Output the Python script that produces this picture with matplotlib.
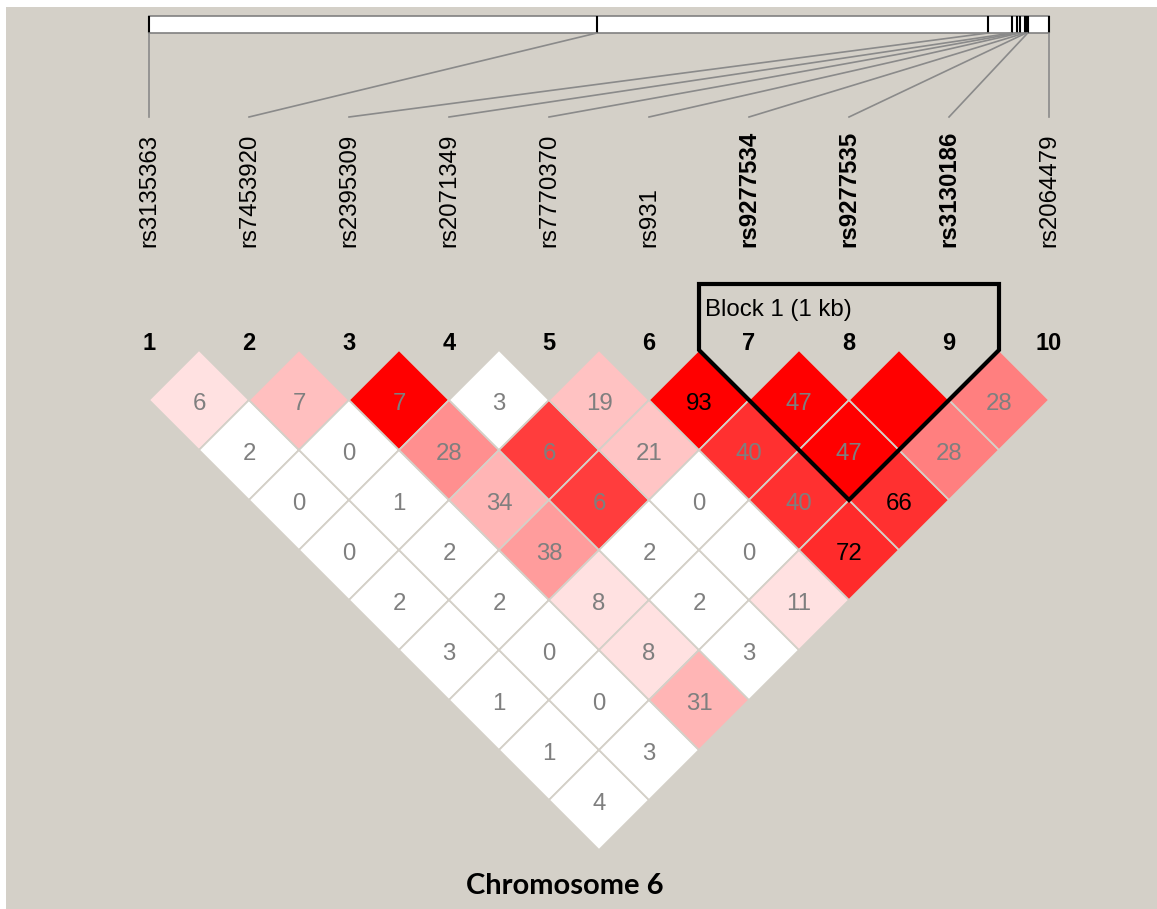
import matplotlib.pyplot as plt
from matplotlib.patches import Polygon, Rectangle
from matplotlib.colors import LinearSegmentedColormap

# markers, physical positions (kb from first marker) and haplotype block
snp_names = ["rs3135363", "rs7453920", "rs2395309", "rs2071349", "rs7770370",
             "rs931", "rs9277534", "rs9277535", "rs3130186", "rs2064479"]
snp_pos_kb = [0.0, 149.3, 279.7, 287.6, 289.3, 290.3, 291.9, 292.4, 292.9, 300.0]
block_first, block_last = 7, 9
block_label = "Block 1 (1 kb)"

# pairwise LD, row i holds pairs (i, i+1), (i, i+2), ... ; None = no number shown
ld_values = [
    [6, 2, 0, 0, 2, 3, 1, 1, 4],
    [7, 0, 1, 2, 2, 0, 0, 3],
    [7, 28, 34, 38, 8, 8, 31],
    [3, 6, 6, 2, 2, 3],
    [19, 21, 0, 0, 11],
    [93, 40, 40, 72],
    [47, 47, 66],
    [None, 28],
    [28],
]
# colour strength of each cell (0 = white, 1 = full red)
ld_shade = [
    [0.12, 0, 0, 0, 0, 0, 0, 0, 0],
    [0.25, 0, 0, 0, 0, 0, 0, 0],
    [1.0, 0.44, 0.29, 0.39, 0.12, 0.12, 0.29],
    [0, 0.76, 0.76, 0, 0, 0],
    [0.24, 0.23, 0, 0, 0.12],
    [1.0, 0.81, 0.81, 0.83],
    [1.0, 1.0, 0.81],
    [1.0, 0.5],
    [0.5],
]
dark_labels = [(6, 7), (6, 10), (7, 10)]

BG = "#d4d0c8"
plt.rcParams["font.family"] = ["Liberation Sans", "DejaVu Sans"]
FS = 17.3

fig = plt.figure(figsize=(11.57, 9.09), dpi=100, facecolor="white")
fig.patches.append(Rectangle((6 / 1157, 0), 1, (909 - 7) / 909, transform=fig.transFigure,
                             facecolor=BG, edgecolor="none", zorder=-1))
ax = fig.add_axes([0, 0, 1, 1])
ax.set_xlim(-0.49, 11.08)
ax.set_ylim(5.59, -3.5)
ax.axis("off")

ld_cmap = LinearSegmentedColormap.from_list("ld", ["#ffffff", "#ff0000"])

# LD triangle
for i, row in enumerate(ld_values, start=1):
    for k, val in enumerate(row):
        j = i + 1 + k
        cx, cy = (i + j) / 2, (j - i) / 2
        ax.add_patch(Polygon([(cx - 0.5, cy), (cx, cy - 0.5), (cx + 0.5, cy), (cx, cy + 0.5)],
                             closed=True, facecolor=ld_cmap(ld_shade[i - 1][k]),
                             edgecolor=BG, linewidth=1.3))
        if val is not None:
            col = "black" if (i, j) in dark_labels else "#7f7f7f"
            ax.text(cx, cy + 0.095, str(val), ha="center", va="baseline",
                    fontsize=FS, color=col)

# chromosome bar with marker ticks
span = snp_pos_kb[-1] - snp_pos_kb[0]
phys_x = [1 + 9 * (p - snp_pos_kb[0]) / span for p in snp_pos_kb]
bar_top, bar_bot = -3.34, -3.17
ax.add_patch(Rectangle((1, bar_top), 9, bar_bot - bar_top, facecolor="white",
                       edgecolor="#808080", linewidth=1.2))
ax.vlines(phys_x, bar_top, bar_bot, color="black", linewidth=1.5)

idx = list(range(1, len(snp_names) + 1))
for n, px, name in zip(idx, phys_x, snp_names):
    ax.plot([px, n], [bar_bot, -2.33], color="#8a8a8a", linewidth=1.2)
    bold = block_first <= n <= block_last
    ax.text(n, -1.03, name, rotation=90, ha="center", va="bottom", fontsize=FS,
            fontweight="bold" if bold else "normal", color="black")
    ax.text(n, 0.0, str(n), ha="center", va="baseline", fontsize=17,
            fontweight="bold", color="black")

# block outline
b0, b1 = block_first - 0.5, block_last + 0.5
depth = (block_last - block_first) / 2 + 0.5
ax.add_patch(Polygon([(b0, -0.66), (b1, -0.66), (b1, 0), ((b0 + b1) / 2, depth), (b0, 0)],
                     closed=True, fill=False, edgecolor="black", linewidth=3,
                     joinstyle="miter", zorder=5))
ax.text(b0 + 0.06, -0.34, block_label, ha="left", va="baseline", fontsize=FS, color="black")

fig.text(565 / 1157, 1 - 886 / 909, "Chromosome 6", ha="center", va="center",
         fontsize=21, fontweight="bold", family=["Lato", "DejaVu Sans"])

fig.savefig("out.png", dpi=100, facecolor="white")
